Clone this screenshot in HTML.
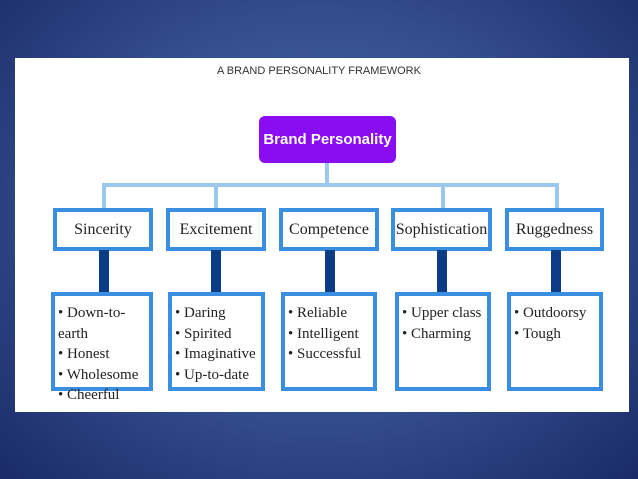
<!DOCTYPE html>
<html><head><style>
body{margin:0;width:638px;height:479px;overflow:hidden;background:radial-gradient(ellipse at 50% 45%,#4f6fae 0%,#36508f 50%,#1a2a68 100%);position:relative;font-family:"Liberation Serif",serif}
.panel{position:absolute;left:15px;top:58px;width:614px;height:354px;background:#fff}
.a{position:absolute}
.t{position:absolute;left:0;width:638px;top:65px;text-align:center;font:11px "Liberation Sans",sans-serif;color:#333}
.bp{position:absolute;left:259px;top:116px;width:137px;height:47px;background:#8a0cf0;border-radius:6px;color:#fff;font:bold 15px "Liberation Sans",sans-serif;text-align:center;line-height:47px}
.cat{position:absolute;top:208px;height:35px;border:4px solid #3a8ee0;background:#fff;text-align:center;line-height:36px;font-size:16px;color:#222;box-sizing:content-box}
.lb{position:absolute;background:#9cc8f0}
.dk{position:absolute;top:250px;height:43px;width:10px;background:#0d3c86}
.bx{position:absolute;top:292px;height:91px;border:4px solid #3a8ee0;background:#fff;font-size:15px;color:#222;line-height:20.5px;padding:7px 0 0 3px;box-sizing:border-box;height:99px}
</style></head><body>
<div class="panel"></div>
<div class="t">A BRAND PERSONALITY FRAMEWORK</div>
<div class="bp">Brand Personality</div>
<div class="lb" style="left:325px;top:163px;width:4px;height:24px"></div>
<div class="lb" style="left:102px;top:183px;width:457px;height:4px"></div>
<div class="lb" style="left:102px;top:183px;width:4px;height:26px"></div>
<div class="lb" style="left:214px;top:183px;width:4px;height:26px"></div>
<div class="lb" style="left:441px;top:183px;width:4px;height:26px"></div>
<div class="lb" style="left:555px;top:183px;width:4px;height:26px"></div>
<div class="cat" style="left:53px;width:92px">Sincerity</div>
<div class="cat" style="left:166px;width:92px">Excitement</div>
<div class="cat" style="left:279px;width:92px">Competence</div>
<div class="cat" style="left:391px;width:93px">Sophistication</div>
<div class="cat" style="left:505px;width:91px">Ruggedness</div>
<div class="dk" style="left:99px"></div>
<div class="dk" style="left:211px"></div>
<div class="dk" style="left:325px"></div>
<div class="dk" style="left:437px"></div>
<div class="dk" style="left:551px"></div>
<div class="bx" style="left:51px;width:102px">• Down-to-earth<br>• Honest<br>• Wholesome<br>• Cheerful</div>
<div class="bx" style="left:168px;width:97px">• Daring<br>• Spirited<br>• Imaginative<br>• Up-to-date</div>
<div class="bx" style="left:281px;width:96px">• Reliable<br>• Intelligent<br>• Successful</div>
<div class="bx" style="left:395px;width:96px">• Upper class<br>• Charming</div>
<div class="bx" style="left:507px;width:96px">• Outdoorsy<br>• Tough</div>
</body></html>
